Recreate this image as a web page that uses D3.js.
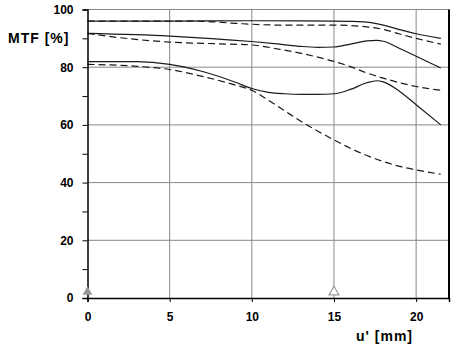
<!DOCTYPE html>
<html>
<head>
<meta charset="utf-8">
<script src="https://cdn.jsdelivr.net/npm/d3@7"></script>
<style>
  body { margin: 0; background: #fff; }
  svg { display: block; }
</style>
</head>
<body>
<div id="chart"></div>
<script>
// u' positions [mm] and MTF values [%]
const topSolidU = [0, 5, 10, 15, 16, 17, 17.5, 18, 19, 20, 21.5];
const topSolid  = [96, 96, 96.1, 96, 95.9, 95.6, 95.2, 94.6, 93, 91.6, 90];

const topDashU = [0, 5, 7, 9, 11.7, 15, 17, 18, 19, 20, 21.5];
const topDash  = [96, 96, 95.9, 95.2, 94.6, 94.6, 94, 93.1, 91.5, 90, 88];

const midSolidU = [0, 5, 10, 11.7, 13, 14, 15, 16, 17, 17.6, 18, 19, 20, 21.5];
const midSolid  = [91.7, 90.8, 88.9, 88, 87.2, 86.9, 87, 88, 89.1, 89.3, 89, 86.5, 83.8, 79.7];

const midDashU = [0, 2, 5, 8, 10, 11.7, 13, 15, 16, 17, 18, 19, 20, 21.5];
const midDash  = [91.7, 90.2, 88.7, 88.1, 87.7, 86.2, 84.8, 82, 80.2, 78, 76.2, 74.6, 73.3, 72];

const lowSolidU = [0, 3, 5, 7, 9, 10, 11, 12, 13, 14, 15, 16, 17, 17.6, 18, 19, 20, 21.5];
const lowSolid  = [81.9, 81.9, 81, 78.5, 74.8, 72.6, 71.3, 70.8, 70.6, 70.6, 70.8, 72.3, 74.6, 75.3, 74.9, 71.6, 67, 60];

const lowDashU = [0, 3, 5, 7, 9, 10, 11, 12, 13, 14, 15, 16, 17, 18, 19, 20, 21.5];
const lowDash  = [81, 80.3, 79.2, 76.8, 73.8, 72, 68.6, 64.9, 61.2, 57.9, 54.8, 51.9, 49.4, 47.3, 45.6, 44.4, 42.9];

const xTicks = [0, 5, 10, 15, 20];
const yTicks = [0, 20, 40, 60, 80, 100];
const yMinor = [10, 30, 50, 70, 90];
const markerU = [0, 15];

const series = [
  { u: topSolidU, v: topSolid, dash: null },
  { u: topDashU, v: topDash, dash: "7,4" },
  { u: midSolidU, v: midSolid, dash: null },
  { u: midDashU, v: midDash, dash: "7,4" },
  { u: lowSolidU, v: lowSolid, dash: null },
  { u: lowDashU, v: lowDash, dash: "7,4" }
];

const width = 453, height = 352;
const x = d3.scaleLinear().domain([0, 22]).range([87.5, 449]);
const y = d3.scaleLinear().domain([0, 100]).range([298, 9.5]);

const svg = d3.select("#chart").append("svg")
    .attr("width", width)
    .attr("height", height)
    .attr("font-family", "'Liberation Sans', Arial, sans-serif")
    .attr("font-weight", "bold");

// grid
svg.append("g")
  .selectAll("line")
  .data(yTicks.filter(d => d > 0))
  .join("line")
    .attr("x1", x(0)).attr("x2", x(22))
    .attr("y1", d => y(d)).attr("y2", d => y(d))
    .attr("stroke", "#888").attr("stroke-width", 1);

svg.append("g")
  .selectAll("line")
  .data(xTicks.filter(d => d > 0))
  .join("line")
    .attr("x1", d => x(d)).attr("x2", d => x(d))
    .attr("y1", y(0)).attr("y2", y(100))
    .attr("stroke", "#888").attr("stroke-width", 1);

// curves
const line = d3.line()
    .x(d => x(d[0]))
    .y(d => y(d[1]))
    .curve(d3.curveMonotoneX);

svg.append("g")
  .selectAll("path")
  .data(series)
  .join("path")
    .attr("d", s => line(s.u.map((u, i) => [u, s.v[i]])))
    .attr("fill", "none")
    .attr("stroke", "#1a1a1a")
    .attr("stroke-width", 1.2)
    .attr("stroke-dasharray", s => s.dash);

// axes
const yAxis = svg.append("g")
    .attr("transform", `translate(${x(0)},0)`)
    .call(d3.axisLeft(y).tickValues(yTicks.concat(yMinor)).tickSize(5).tickPadding(9)
      .tickFormat(d => yTicks.includes(d) ? d : ""));
yAxis.select(".domain").attr("stroke", "#000").attr("stroke-width", 1.5);
yAxis.selectAll("text").attr("font-size", 12).attr("fill", "#000")
    .attr("font-family", "'Liberation Sans', Arial, sans-serif");

const xAxis = svg.append("g")
    .attr("transform", `translate(0,${y(0)})`)
    .call(d3.axisBottom(x).tickValues(xTicks).tickSize(4).tickPadding(10));
xAxis.select(".domain").attr("stroke", "#000").attr("stroke-width", 1.5);
xAxis.selectAll("text").attr("font-size", 12).attr("fill", "#000")
    .attr("font-family", "'Liberation Sans', Arial, sans-serif");

// right border
svg.append("line")
    .attr("x1", x(22)).attr("x2", x(22))
    .attr("y1", y(100)).attr("y2", y(0))
    .attr("stroke", "#000").attr("stroke-width", 2);

// markers (drawn over the axis)
const tri = d3.symbol().type(d3.symbolTriangle).size(42);
svg.append("g")
  .selectAll("path")
  .data(markerU)
  .join("path")
    .attr("transform", d => `translate(${x(d)},${y(0) - 6})`)
    .attr("d", tri)
    .attr("fill", (d, i) => i === 0 ? "#999" : "#fff")
    .attr("stroke", "#999")
    .attr("stroke-width", (d, i) => i === 0 ? 0 : 1.2);

// titles
svg.append("text")
    .attr("x", 8).attr("y", 43)
    .attr("font-size", 14)
    .attr("letter-spacing", 1)
    .text("MTF [%]");

svg.append("text")
    .attr("x", 356).attr("y", 341)
    .attr("font-size", 14)
    .attr("letter-spacing", 1)
    .text("u' [mm]");
</script>
</body>
</html>
